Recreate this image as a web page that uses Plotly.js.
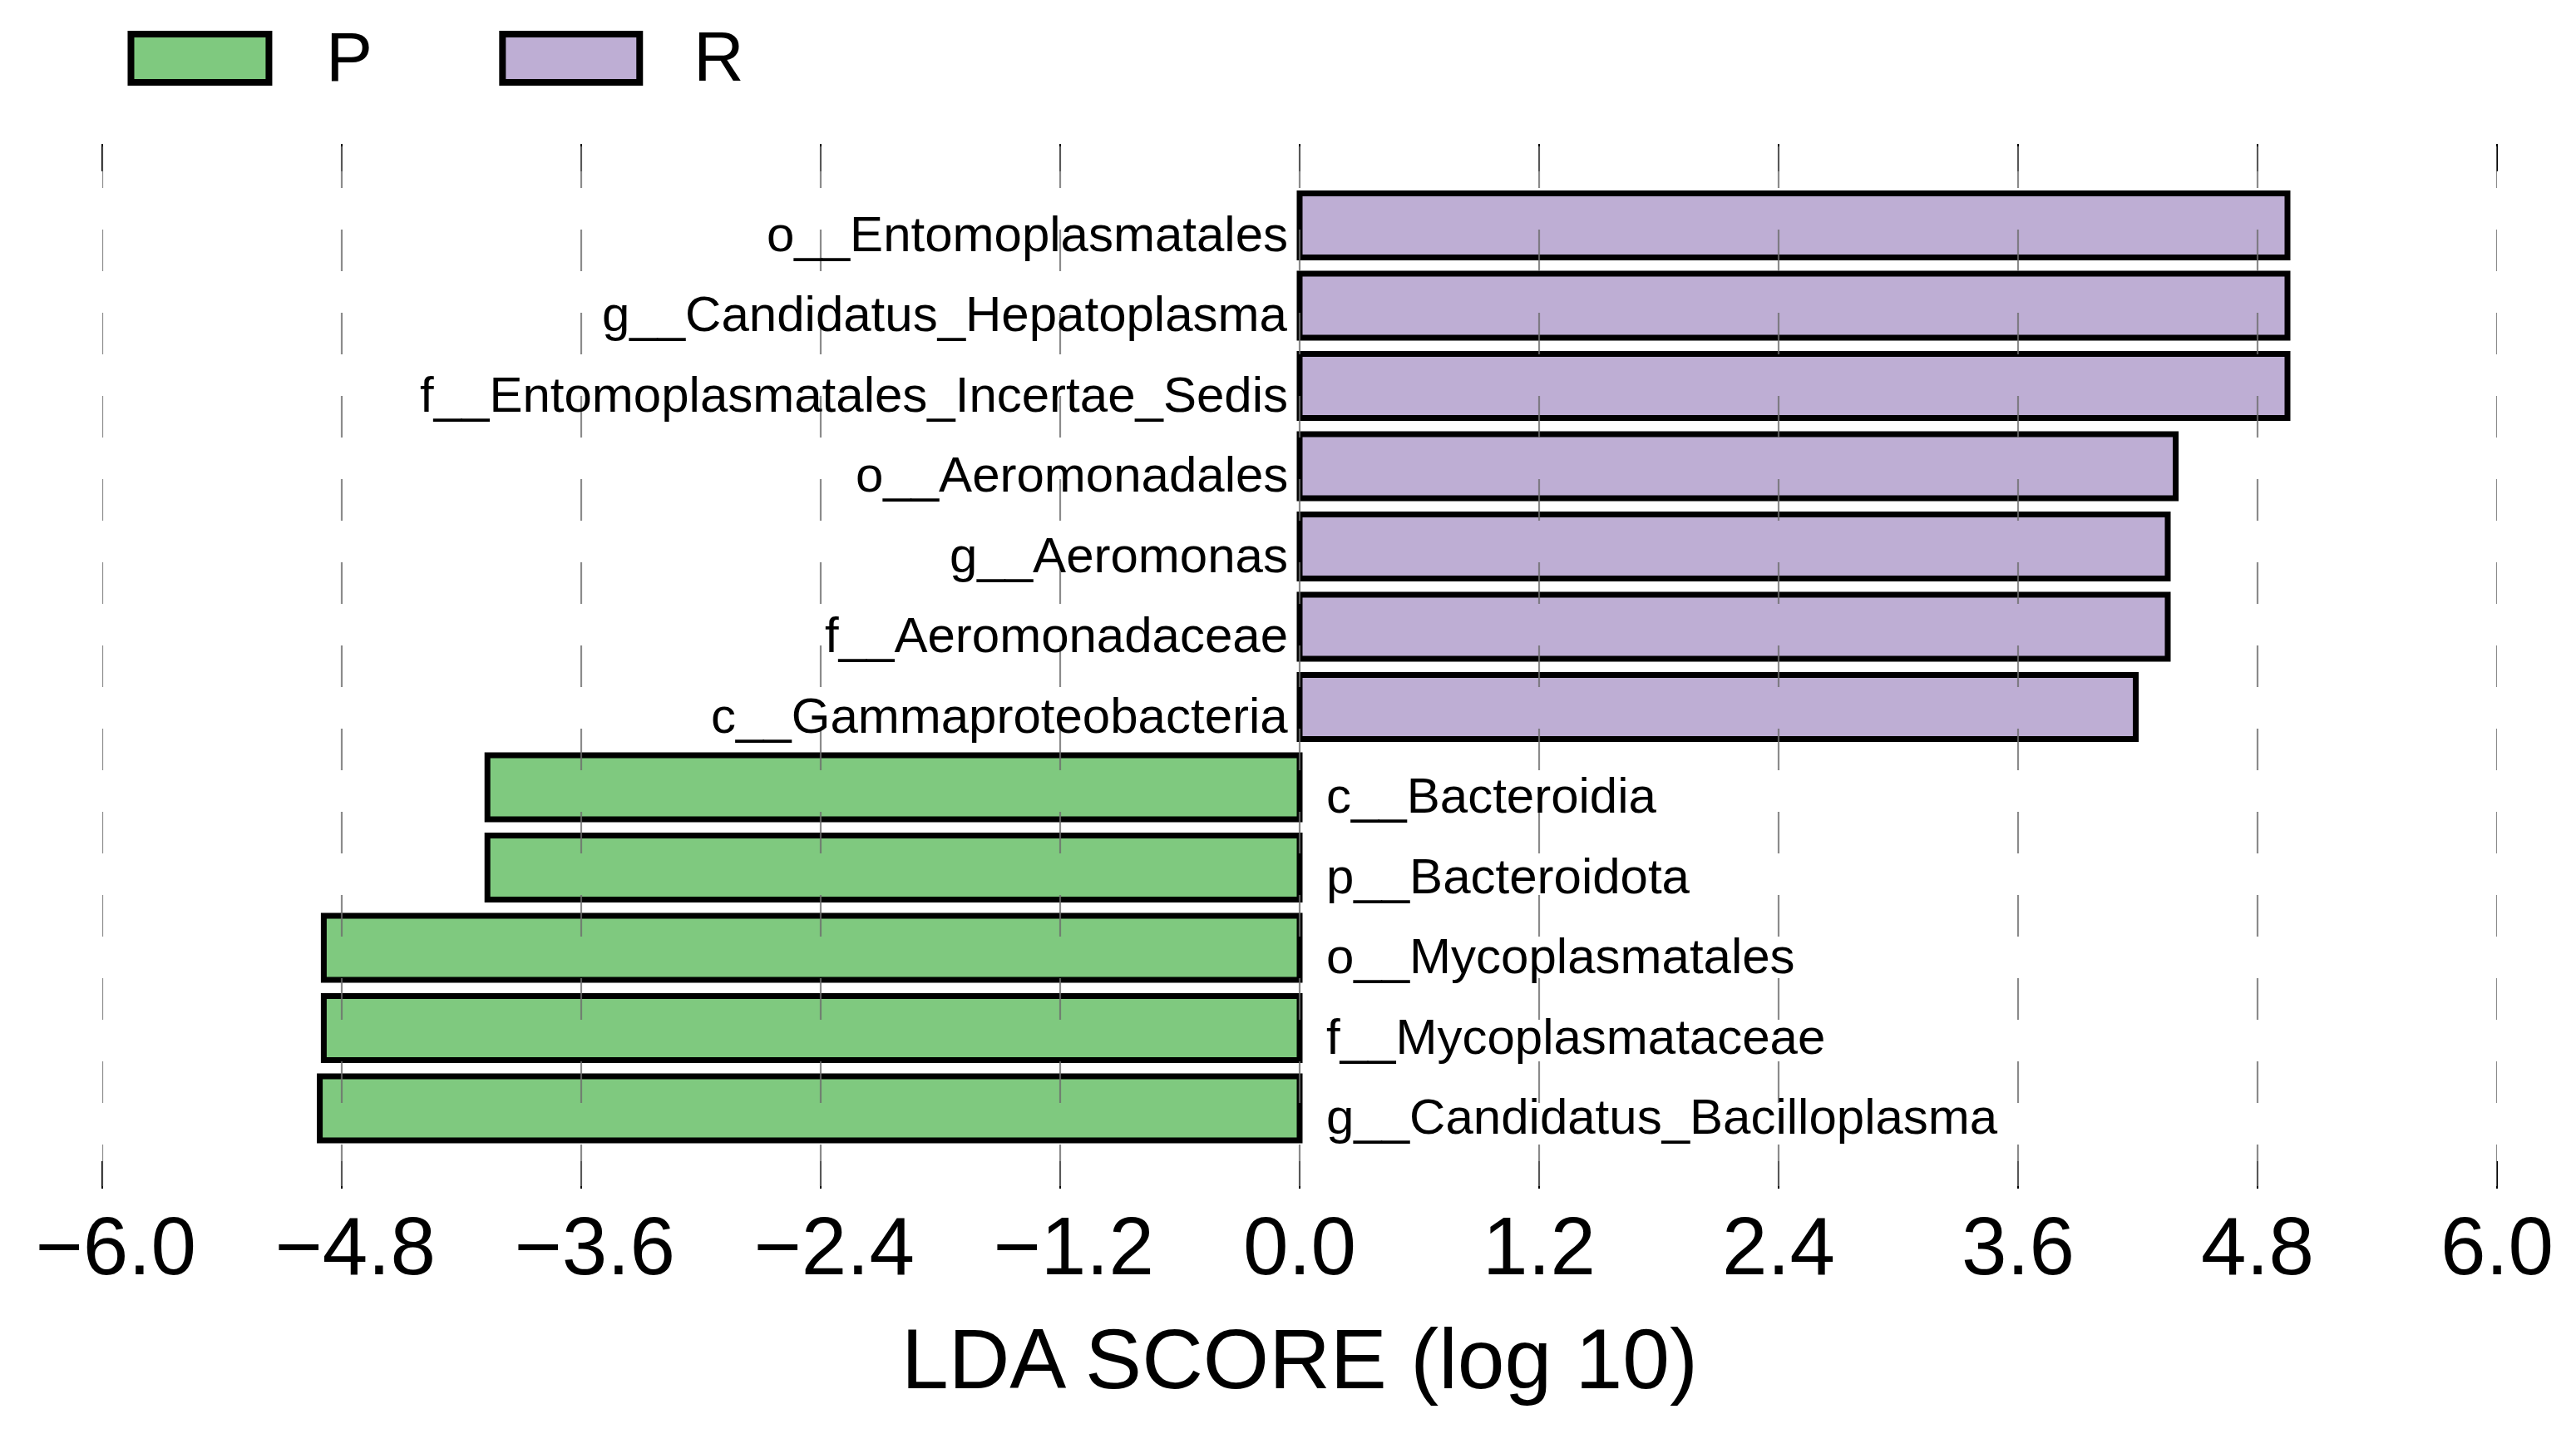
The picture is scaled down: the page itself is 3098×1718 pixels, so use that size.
<!DOCTYPE html>
<html>
<head>
<meta charset="utf-8">
<script src="https://cdn.plot.ly/plotly-3.0.1.min.js"></script>
<style>html,body{margin:0;padding:0;background:#fff;}#chart{width:3098px;height:1718px;}</style>
</head>
<body>
<div id="chart"></div>
<script>
// ---- data (top to bottom) ----
const features = [
  "o__Entomoplasmatales",
  "g__Candidatus_Hepatoplasma",
  "f__Entomoplasmatales_Incertae_Sedis",
  "o__Aeromonadales",
  "g__Aeromonas",
  "f__Aeromonadaceae",
  "c__Gammaproteobacteria",
  "c__Bacteroidia",
  "p__Bacteroidota",
  "o__Mycoplasmatales",
  "f__Mycoplasmataceae",
  "g__Candidatus_Bacilloplasma"
];
const ldaScores = [4.95, 4.95, 4.95, 4.39, 4.35, 4.35, 4.19, -4.07, -4.07, -4.89, -4.89, -4.91];
const groups = ["R","R","R","R","R","R","R","P","P","P","P","P"];
const groupNames = ["P", "R"];
const groupColors = {P: "#7FC97F", R: "#BEAED4"};
const tickValues = [-6.0, -4.8, -3.6, -2.4, -1.2, 0.0, 1.2, 2.4, 3.6, 4.8, 6.0];
const axisTitle = "LDA SCORE (log 10)";

// ---- layout geometry (pixels) ----
const W = 3098, H = 1718;
const plotL = 122.5, plotR = 3003.5, plotT = 207, plotB = 1395;
const pw = plotR - plotL, ph = plotB - plotT;
const px2x = p => (p - plotL) / pw;
const py2y = p => (plotB - p) / ph;
const FONT = "Liberation Sans, Arial, Helvetica, sans-serif";
// row geometry: first row centre 271px, pitch 96.5px
const rowTop = (plotT - 271) / 96.5, rowBottom = (plotB - 271) / 96.5;

const traces = groupNames.map(g => {
  const ys = [], xs = [];
  features.forEach((f, i) => { if (groups[i] === g) { ys.push(f); xs.push(ldaScores[i]); } });
  return {
    type: "bar", orientation: "h", name: g, x: xs, y: ys, width: 0.8,
    marker: {color: groupColors[g], line: {color: "#000", width: 7}},
    showlegend: false, hoverinfo: "x+y"
  };
});

// labels
const annotations = features.map((f, i) => ({
  x: 0, y: f, xref: "x", yref: "y", text: f, showarrow: false,
  xanchor: ldaScores[i] >= 0 ? "right" : "left",
  xshift: ldaScores[i] >= 0 ? -12 : 30, yshift: -10,
  font: {family: FONT, size: 60, color: "#000"}
}));

// legend (drawn as boxes + text)
const shapes = [];
const legendBoxes = {P: [157, 323], R: [604, 769]};
const legendText = {P: 390, R: 832};
groupNames.forEach(g => {
  shapes.push({type: "rect", xref: "paper", yref: "paper",
    x0: px2x(legendBoxes[g][0]), x1: px2x(legendBoxes[g][1]),
    y0: py2y(99), y1: py2y(41),
    fillcolor: groupColors[g], line: {color: "#000", width: 8}, layer: "above"});
  annotations.push({xref: "paper", yref: "paper", x: px2x(legendText[g]), y: py2y(68),
    xanchor: "left", yanchor: "middle", text: g, showarrow: false,
    font: {family: FONT, size: 84, color: "#000"}});
});

// dashed grid lines drawn above bars
tickValues.forEach(t => {
  shapes.push({type: "line", xref: "x", yref: "paper", x0: t, x1: t,
    y0: py2y(176), y1: py2y(1427),
    line: {color: "rgba(110,110,110,0.8)", width: 2.2, dash: "50px,50px"}, layer: "above"});
});

const tickLabels = tickValues.map(v => (v < 0 ? "\u2004\u2212" : "") + Math.abs(v).toFixed(1));

const layout = {
  width: W, height: H,
  margin: {l: plotL, r: W - plotR, t: plotT, b: H - plotB, pad: 0},
  paper_bgcolor: "#fff", plot_bgcolor: "#fff",
  barmode: "overlay",
  xaxis: {
    range: [-6, 6], tickvals: tickValues, ticktext: tickLabels,
    ticks: "outside", ticklen: 33, tickwidth: 2.5, tickcolor: "#000",
    mirror: "ticks", showline: false, showgrid: false, zeroline: false,
    tickfont: {family: FONT, size: 98, color: "#000"},
    ticklabelstandoff: -15,
    title: {text: "\u2004" + axisTitle, font: {family: FONT, size: 102, color: "#000"}, standoff: 46},
    automargin: false, fixedrange: true
  },
  yaxis: {
    type: "category", categoryorder: "array", categoryarray: features,
    range: [rowBottom, rowTop],
    showticklabels: false, ticks: "", showgrid: false, zeroline: false, showline: false,
    automargin: false, fixedrange: true
  },
  shapes: shapes,
  annotations: annotations,
  showlegend: false,
  font: {family: FONT}
};

Plotly.newPlot("chart", traces, layout, {displayModeBar: false, staticPlot: true});
</script>
</body>
</html>
